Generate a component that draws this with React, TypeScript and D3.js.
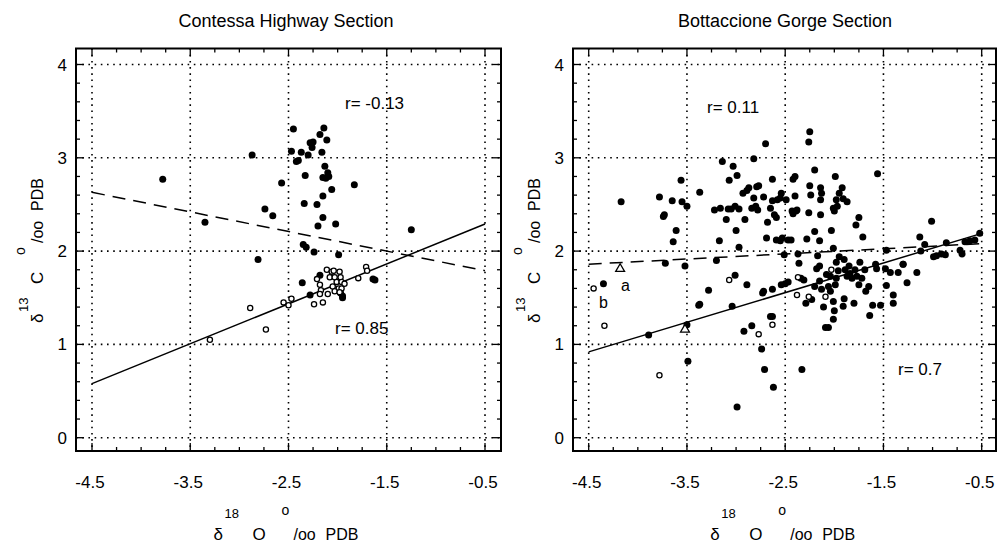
import * as d3 from "d3";

// [d18O, d13C]
const contessaFilled = [
  [-3.78, 2.77], [-2.87, 3.03], [-3.35, 2.31], [-2.81, 1.91], [-2.74, 2.45], [-2.66, 2.38],
  [-2.57, 2.73], [-2.45, 3.31], [-2.47, 3.07], [-2.42, 2.96], [-2.40, 2.97], [-2.37, 3.06],
  [-2.33, 2.81], [-2.34, 2.51], [-2.35, 2.07], [-2.32, 2.04], [-2.30, 3.03], [-2.28, 3.16],
  [-2.25, 3.17], [-2.26, 3.11], [-2.24, 1.99], [-2.21, 2.50], [-2.20, 2.27], [-2.18, 3.25],
  [-2.16, 3.06], [-2.15, 2.59], [-2.15, 2.36], [-2.14, 3.32], [-2.13, 2.91], [-2.15, 2.79],
  [-2.12, 2.78], [-2.11, 3.19], [-2.10, 2.84], [-2.09, 2.80], [-2.06, 2.66], [-2.02, 2.29],
  [-1.99, 1.96], [-1.83, 2.71], [-1.25, 2.23], [-2.36, 1.66], [-2.28, 1.53], [-2.18, 1.74],
  [-1.95, 1.50], [-1.97, 1.55], [-1.95, 1.52], [-1.64, 1.70], [-1.62, 1.69],
];
const contessaOpen = [
  [-3.30, 1.05], [-2.89, 1.39], [-2.73, 1.16], [-2.55, 1.45], [-2.50, 1.42], [-2.47, 1.49],
  [-2.21, 1.70], [-2.18, 1.64], [-2.17, 1.58], [-2.18, 1.54], [-2.24, 1.43], [-2.15, 1.45],
  [-2.10, 1.54], [-2.11, 1.80], [-2.06, 1.78], [-2.04, 1.79], [-1.98, 1.78], [-2.08, 1.72],
  [-2.03, 1.72], [-1.97, 1.72], [-2.01, 1.67], [-1.96, 1.67], [-1.93, 1.65], [-2.05, 1.62],
  [-1.99, 1.60], [-1.96, 1.60], [-2.03, 1.57], [-1.98, 1.56], [-1.79, 1.71], [-1.71, 1.83],
  [-1.70, 1.79],
];
const bottaccioneFilled = [
  [-2.25, 3.28], [-2.26, 3.17], [-2.70, 3.15], [-3.14, 2.96], [-3.03, 2.91], [-2.82, 2.99],
  [-2.99, 2.81], [-3.07, 2.76], [-3.56, 2.76], [-2.20, 2.87], [-1.99, 2.80], [-1.56, 2.83],
  [-2.63, 2.77], [-2.42, 2.77], [-2.40, 2.80], [-3.37, 2.63], [-3.78, 2.58], [-3.65, 2.54],
  [-4.17, 2.53], [-3.55, 2.53], [-3.50, 2.48], [-3.73, 2.39], [-3.74, 2.37], [-3.61, 2.22],
  [-3.64, 2.10], [-3.22, 2.44], [-3.16, 2.46], [-3.10, 2.34], [-3.17, 2.11], [-3.08, 2.45],
  [-3.05, 2.45], [-3.01, 2.48], [-3.00, 2.22], [-2.97, 2.45], [-2.93, 2.62], [-2.91, 2.34],
  [-2.89, 2.65], [-2.87, 2.68], [-2.84, 2.46], [-2.82, 2.57], [-2.80, 2.48], [-2.79, 2.69],
  [-2.78, 2.44], [-2.77, 2.70], [-2.72, 2.58], [-2.69, 2.14], [-2.68, 2.31], [-2.65, 2.46],
  [-2.63, 2.54], [-2.61, 2.39], [-2.59, 2.36], [-2.58, 2.55], [-2.55, 2.57], [-2.54, 2.62],
  [-2.49, 2.55], [-2.59, 2.12], [-2.55, 2.11], [-2.53, 2.14], [-2.47, 2.12], [-2.44, 2.12],
  [-2.43, 2.43], [-2.42, 2.40], [-2.39, 2.43], [-2.38, 2.44], [-2.40, 2.59], [-2.26, 2.41],
  [-2.28, 2.13], [-2.25, 2.70], [-2.24, 2.60], [-2.20, 2.21], [-2.15, 2.11], [-2.14, 2.55],
  [-2.14, 2.39], [-2.14, 2.68], [-2.13, 2.62], [-2.03, 2.22], [-2.01, 2.46], [-2.00, 2.43],
  [-1.98, 2.55], [-1.95, 2.62], [-1.92, 2.68], [-1.91, 2.56], [-1.87, 2.53], [-1.97, 2.48],
  [-1.78, 2.28], [-1.75, 2.36], [-1.71, 2.15], [-1.01, 2.32], [-1.13, 2.15], [-1.12, 2.00],
  [-1.08, 2.07], [-1.16, 1.77],
  [-3.72, 1.87], [-3.20, 1.90], [-3.52, 1.84], [-2.97, 2.04], [-2.51, 1.96], [-2.36, 1.87],
  [-2.37, 1.97], [-2.17, 1.95], [-2.15, 1.84], [-2.08, 1.75], [-2.01, 2.03], [-1.98, 1.88],
  [-1.95, 1.94], [-1.90, 1.91], [-1.47, 2.01], [-1.30, 1.86], [-1.35, 1.77], [-1.26, 1.66],
  [-0.99, 1.94], [-0.96, 1.95], [-0.91, 1.97], [-0.87, 1.96], [-0.86, 2.09], [-0.72, 2.01],
  [-0.70, 1.97], [-0.67, 2.10], [-0.62, 2.11], [-0.57, 2.12], [-0.52, 2.19],
  [-4.35, 1.65], [-3.89, 1.10], [-3.50, 1.21], [-3.49, 0.82], [-3.38, 1.42], [-3.37, 1.43],
  [-3.28, 1.58], [-3.01, 1.74], [-3.04, 1.41], [-2.89, 1.64], [-2.92, 1.14], [-2.84, 1.20],
  [-2.74, 0.95], [-2.71, 0.73], [-2.73, 1.55], [-2.72, 1.57], [-2.65, 1.30], [-2.63, 1.30],
  [-2.62, 0.54], [-2.63, 1.59], [-2.99, 0.33], [-2.33, 0.73], [-2.54, 1.64], [-2.50, 1.65],
  [-2.47, 1.67], [-2.34, 1.71], [-2.31, 1.69], [-2.29, 1.44], [-2.23, 1.48], [-2.20, 1.62],
  [-2.18, 1.81], [-2.15, 1.68], [-2.13, 1.59], [-2.11, 1.40], [-2.09, 1.18], [-2.06, 1.18],
  [-2.06, 1.62], [-2.04, 1.57], [-2.04, 1.73], [-2.01, 1.46], [-2.00, 1.36], [-1.99, 1.64],
  [-1.98, 1.71], [-1.96, 1.79], [-2.01, 1.27], [-1.91, 1.41], [-1.90, 1.49], [-1.89, 1.80],
  [-1.87, 1.73], [-1.85, 1.84], [-1.84, 1.76], [-1.82, 1.71], [-1.80, 1.44], [-1.79, 1.80],
  [-1.77, 1.73], [-1.75, 1.64], [-1.74, 1.88], [-1.72, 1.71], [-1.69, 1.80], [-1.68, 1.57],
  [-1.65, 1.62], [-1.64, 1.31], [-1.61, 1.42], [-1.58, 1.86], [-1.57, 1.81], [-1.53, 1.42],
  [-1.48, 1.81], [-1.47, 1.63], [-1.43, 1.77], [-1.40, 1.53], [-1.40, 1.44], [-1.30, 1.86],
];
const bottaccioneOpen = [
  [-4.45, 1.60], [-4.34, 1.20], [-3.78, 0.67], [-3.07, 1.69], [-2.77, 1.11], [-2.63, 1.21],
  [-2.38, 1.53], [-2.37, 1.72], [-2.26, 1.51], [-2.09, 1.51], [-2.03, 1.80],
];
const bottaccioneTriangles = [[-4.18, 1.81], [-3.52, 1.16]];

// regression lines, end points
const contessaSolid = [[-4.5, 0.58], [-0.5, 2.29]];
const contessaDashed = [[-4.5, 2.63], [-0.5, 1.79]];
const bottaccioneSolid = [[-4.5, 0.92], [-0.5, 2.19]];
const bottaccioneDashed = [[-4.5, 1.86], [-0.5, 2.08]];

const xMajor = [-4.5, -3.5, -2.5, -1.5, -0.5];
const yMajor = [0, 1, 2, 3, 4];
const xLabels = ["-4.5", "-3.5", "-2.5", "-1.5", "-0.5"];

const FONT = "'Liberation Sans', Arial, Helvetica, sans-serif";

// per mil axis title, laid out piece by piece (dx along the text, rise above baseline)
function IsoLabel({ iso, el, transform, supRise }) {
  const pieces = [
    { t: "δ", dx: -72, rise: 0, size: 17 },
    { t: iso, dx: -61, rise: supRise[0], size: 13 },
    { t: el, dx: -33, rise: 0, size: 17 },
    { t: "o", dx: -4, rise: supRise[1], size: 14 },
    { t: "/oo", dx: 8, rise: 0, size: 16 },
    { t: "PDB", dx: 40, rise: 0, size: 16 },
  ];
  return (
    <g transform={transform}>
      {pieces.map((p, i) => (
        <text key={i} x={p.dx} y={-p.rise} fontSize={p.size} fontFamily={FONT}>{p.t}</text>
      ))}
    </g>
  );
}

function Panel({ left, right, gx0, gx1, title, titleX, filled, open, tris, solid, dashed, notes }) {
  const top = 48.5;
  const bottom = 451;
  const x = d3.scaleLinear().domain([-4.5, -0.5]).range([gx0, gx1]);
  const y = d3.scaleLinear().domain([0, 4]).range([437.7, 64.5]);
  const line = d3.line().x((d) => x(d[0])).y((d) => y(d[1]));
  const xMinor = d3.range(0, 17).map((i) => -4.5 + i * 0.25);
  const yMinor = d3.range(0, 21).map((i) => i * 0.2);
  const tri = d3.symbol().type(d3.symbolTriangle).size(34)();
  const cx = x(-2.5) - 3;

  return (
    <g>
      <text x={titleX} y={27} textAnchor="middle" fontSize={18} fontFamily={FONT}>{title}</text>

      {/* dotted grid */}
      {xMajor.map((v) => (
        <line key={"gx" + v} x1={x(v)} x2={x(v)} y1={top} y2={bottom}
          stroke="#000" strokeWidth={1.6} strokeDasharray="1.6,4.6" />
      ))}
      {yMajor.map((v) => (
        <line key={"gy" + v} x1={left} x2={right} y1={y(v)} y2={y(v)}
          stroke="#000" strokeWidth={1.6} strokeDasharray="1.6,4.6" />
      ))}

      {/* ticks on all four sides, inward */}
      {xMinor.map((v, i) => {
        const len = i % 4 === 0 ? 8 : 4;
        return (
          <g key={"tx" + i}>
            <line x1={x(v)} x2={x(v)} y1={top} y2={top + len} stroke="#000" strokeWidth={1.3} />
            <line x1={x(v)} x2={x(v)} y1={bottom} y2={bottom - len} stroke="#000" strokeWidth={1.3} />
          </g>
        );
      })}
      {yMinor.map((v, i) => {
        const len = i % 5 === 0 ? 8 : 4;
        return (
          <g key={"ty" + i}>
            <line x1={left} x2={left + len} y1={y(v)} y2={y(v)} stroke="#000" strokeWidth={1.3} />
            <line x1={right} x2={right - len} y1={y(v)} y2={y(v)} stroke="#000" strokeWidth={1.3} />
          </g>
        );
      })}

      <rect x={left} y={top} width={right - left} height={bottom - top} fill="none" stroke="#000" strokeWidth={2} />

      {/* tick labels */}
      {xMajor.map((v, i) => (
        <text key={"lx" + v} x={x(v) - 2} y={488} textAnchor="middle" fontSize={17} fontFamily={FONT}>{xLabels[i]}</text>
      ))}
      {yMajor.map((v) => (
        <text key={"ly" + v} x={left - 9} y={y(v) + 6} textAnchor="end" fontSize={17} fontFamily={FONT}>{v}</text>
      ))}

      {/* fit lines */}
      <path d={line(solid)} fill="none" stroke="#000" strokeWidth={1.5} />
      <path d={line(dashed)} fill="none" stroke="#000" strokeWidth={1.5} strokeDasharray="13,8" />

      {/* points */}
      {filled.map((d, i) => (
        <circle key={"f" + i} cx={x(d[0])} cy={y(d[1])} r={3.5} fill="#000" />
      ))}
      {open.map((d, i) => (
        <circle key={"o" + i} cx={x(d[0])} cy={y(d[1])} r={2.6} fill="#fff" stroke="#000" strokeWidth={1.3} />
      ))}
      {tris.map((d, i) => (
        <path key={"t" + i} d={tri} transform={`translate(${x(d[0])},${y(d[1])})`} fill="#fff" stroke="#000" strokeWidth={1.3} />
      ))}

      {notes.map((n, i) => (
        <text key={"n" + i} x={n.x} y={n.y} fontSize={n.size} fontFamily={FONT}>{n.text}</text>
      ))}

      {/* axis titles */}
      <IsoLabel iso="18" el="O" transform={`translate(${cx},540)`} supRise={[22, 25]} />
      <IsoLabel iso="13" el="C" transform={`translate(${left - 33},251) rotate(-90)`} supRise={[15, 18]} />
    </g>
  );
}

export default function App() {
  return (
    <svg width={997} height={544} style={{ position: "absolute", left: 0, top: 0, background: "#fff" }}>
      <rect width={997} height={544} fill="#fff" />
      <Panel
        left={76} right={501} gx0={92} gx1={485}
        title="Contessa Highway Section" titleX={286}
        filled={contessaFilled} open={contessaOpen} tris={[]}
        solid={contessaSolid} dashed={contessaDashed}
        notes={[
          { x: 345, y: 109, text: "r= -0.13", size: 17 },
          { x: 335, y: 334, text: "r= 0.85", size: 17 },
        ]}
      />
      <Panel
        left={573} right={996} gx0={588.7} gx1={981.7}
        title="Bottaccione Gorge Section" titleX={785}
        filled={bottaccioneFilled} open={bottaccioneOpen} tris={bottaccioneTriangles}
        solid={bottaccioneSolid} dashed={bottaccioneDashed}
        notes={[
          { x: 707, y: 113, text: "r= 0.11", size: 17 },
          { x: 898, y: 375, text: "r= 0.7", size: 17 },
          { x: 621, y: 291, text: "a", size: 16 },
          { x: 599, y: 308, text: "b", size: 16 },
        ]}
      />
    </svg>
  );
}
